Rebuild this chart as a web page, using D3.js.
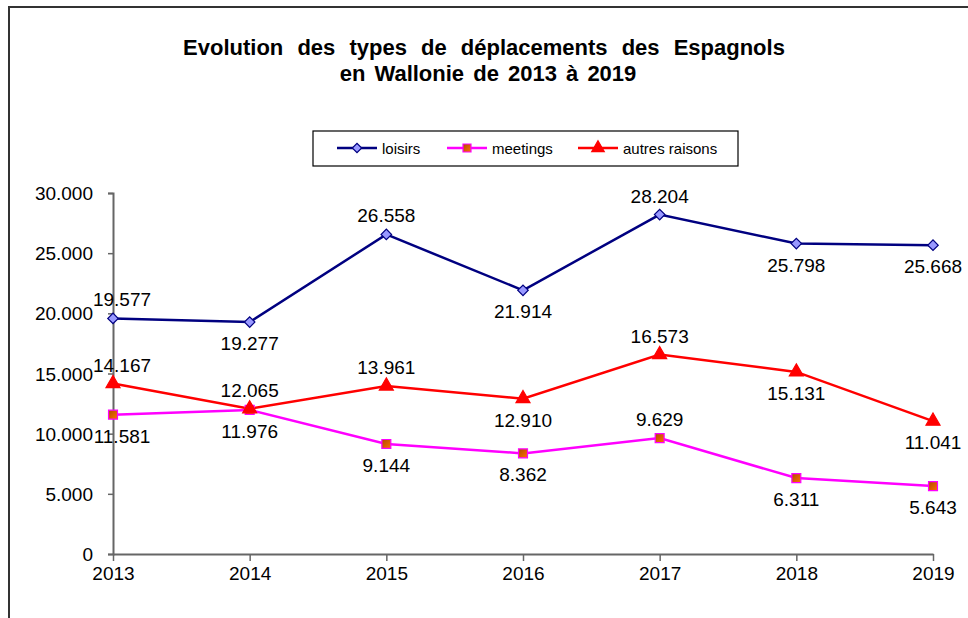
<!DOCTYPE html>
<html>
<head>
<meta charset="utf-8">
<script src="https://cdn.jsdelivr.net/npm/d3@7"></script>
<style>
  body { margin: 0; background: #fff; }
  svg { display: block; font-family: "Liberation Sans", Arial, sans-serif; }
</style>
</head>
<body>
<div id="chart"></div>
<script>
// data
const years = ["2013", "2014", "2015", "2016", "2017", "2018", "2019"];
const loisirs = [19577, 19277, 26558, 21914, 28204, 25798, 25668];
const meetings = [11581, 11976, 9144, 8362, 9629, 6311, 5643];
const autres = [14167, 12065, 13961, 12910, 16573, 15131, 11041];
const yTicks = [0, 5000, 10000, 15000, 20000, 25000, 30000];
// where each value label sits relative to its marker
const loisirsPos = ["above", "below", "above", "below", "above", "below", "below"];
const meetingsPos = ["below", "below", "below", "below", "above", "below", "below"];
const autresPos = ["above", "above", "above", "below", "above", "below", "below"];

const width = 968, height = 618;
const margin = {top: 193, left: 113, right: 35, bottom: 64};

const svg = d3.select("#chart")
  .append("svg")
    .attr("width", width)
    .attr("height", height);

// outer frame (cut by the page edge on right and bottom)
svg.append("rect")
  .attr("x", 9).attr("y", 7)
  .attr("width", width + 20).attr("height", height + 20)
  .attr("fill", "none")
  .attr("stroke", "#333")
  .attr("stroke-width", 2);

// title
const title = svg.append("text")
  .attr("text-anchor", "middle")
  .attr("font-weight", "bold")
  .attr("font-size", 22)
  .attr("fill", "#000");
title.append("tspan").attr("x", 484).attr("y", 55)
  .attr("word-spacing", 8)
  .text("Evolution des types de déplacements des Espagnols");
title.append("tspan").attr("x", 488).attr("y", 81)
  .attr("word-spacing", 3)
  .text("en Wallonie de 2013 à 2019");

const x = d3.scalePoint()
  .domain(years)
  .range([margin.left, width - margin.right]);

const y = d3.scaleLinear()
  .domain([0, 30000])
  .range([height - margin.bottom, margin.top]);

const fmt = d3.formatLocale({decimal: ",", thousands: ".", grouping: [3], currency: ["", "€"]}).format(",.0f");

// y axis
const yAxis = svg.append("g")
  .attr("transform", `translate(${margin.left},0)`)
  .call(d3.axisLeft(y).tickValues(yTicks).tickSize(5).tickPadding(15).tickFormat(fmt));
yAxis.select(".domain").attr("stroke", "#666").attr("stroke-width", 2);
yAxis.selectAll(".tick line").attr("stroke", "#666").attr("stroke-width", 1.5);
yAxis.selectAll(".tick text").attr("font-size", 19).attr("fill", "#000")
  .attr("font-family", "Liberation Sans, Arial, sans-serif").attr("dy", "0.35em");

// x axis
const xAxis = svg.append("g")
  .attr("transform", `translate(0,${y(0)})`)
  .call(d3.axisBottom(x).tickSize(7).tickSizeOuter(0).tickPadding(6));
xAxis.select(".domain").attr("stroke", "#666").attr("stroke-width", 2);
xAxis.selectAll(".tick line").attr("stroke", "#666").attr("stroke-width", 1.5);
xAxis.selectAll(".tick text").attr("font-size", 19).attr("fill", "#000")
  .attr("font-family", "Liberation Sans, Arial, sans-serif");

// orange-ish fill for the meetings squares
const defs = svg.append("defs");
const grad = defs.append("linearGradient").attr("id", "sq")
  .attr("x1", 0).attr("y1", 0).attr("x2", 1).attr("y2", 1);
grad.append("stop").attr("offset", "0%").attr("stop-color", "#b04a00");
grad.append("stop").attr("offset", "100%").attr("stop-color", "#ff7000");

const series = [
  {name: "loisirs", values: loisirs, pos: loisirsPos, color: "#000080", symbol: d3.symbolSquare, rot: 45, size: 55, fill: "#9999ff", stroke: "#000080"},
  {name: "meetings", values: meetings, pos: meetingsPos, color: "#ff00ff", symbol: d3.symbolSquare, rot: 0, size: 80, fill: "url(#sq)", stroke: "#ff00ff"},
  {name: "autres raisons", values: autres, pos: autresPos, color: "#ff0000", symbol: d3.symbolTriangle, rot: 0, size: 85, fill: "#ff0000", stroke: "#ff0000"}
];

const line = d3.line()
  .x((d, i) => x(years[i]))
  .y(d => y(d));

series.forEach(s => {
  svg.append("path")
    .datum(s.values)
    .attr("fill", "none")
    .attr("stroke", s.color)
    .attr("stroke-width", 2.5)
    .attr("d", line);
});

series.forEach(s => {
  svg.append("g").selectAll("path")
    .data(s.values)
    .join("path")
      .attr("transform", (d, i) => `translate(${x(years[i])},${y(d)}) rotate(${s.rot})`)
      .attr("d", d3.symbol().type(s.symbol).size(s.size))
      .attr("fill", s.fill)
      .attr("stroke", s.stroke)
      .attr("stroke-width", 1.2);
});

// value labels
series.forEach(s => {
  svg.append("g").selectAll("text")
    .data(s.values)
    .join("text")
      .attr("x", (d, i) => x(years[i]) + (i === 0 ? 9 : 0))
      .attr("y", (d, i) => y(d) + (s.pos[i] === "above" ? -12 : 28))
      .attr("text-anchor", "middle")
      .attr("font-size", 19)
      .attr("fill", "#000")
      .text(d => fmt(d));
});

// legend
const legend = svg.append("g");
legend.append("rect")
  .attr("x", 313).attr("y", 131)
  .attr("width", 425).attr("height", 35)
  .attr("fill", "#fff")
  .attr("stroke", "#000")
  .attr("stroke-width", 1.2);
const legX = [337, 447, 578];
series.forEach((s, i) => {
  const g = legend.append("g").attr("transform", `translate(${legX[i]},148)`);
  g.append("line").attr("x1", 0).attr("x2", 40)
    .attr("stroke", s.color).attr("stroke-width", 2.5);
  g.append("path")
    .attr("transform", `translate(20,0) rotate(${s.rot})`)
    .attr("d", d3.symbol().type(s.symbol).size(s.size * 0.8))
    .attr("fill", s.fill).attr("stroke", s.stroke).attr("stroke-width", 1.2);
  g.append("text")
    .attr("x", 45).attr("y", 5.5)
    .attr("font-size", 15)
    .attr("fill", "#000")
    .text(s.name);
});
</script>
</body>
</html>
